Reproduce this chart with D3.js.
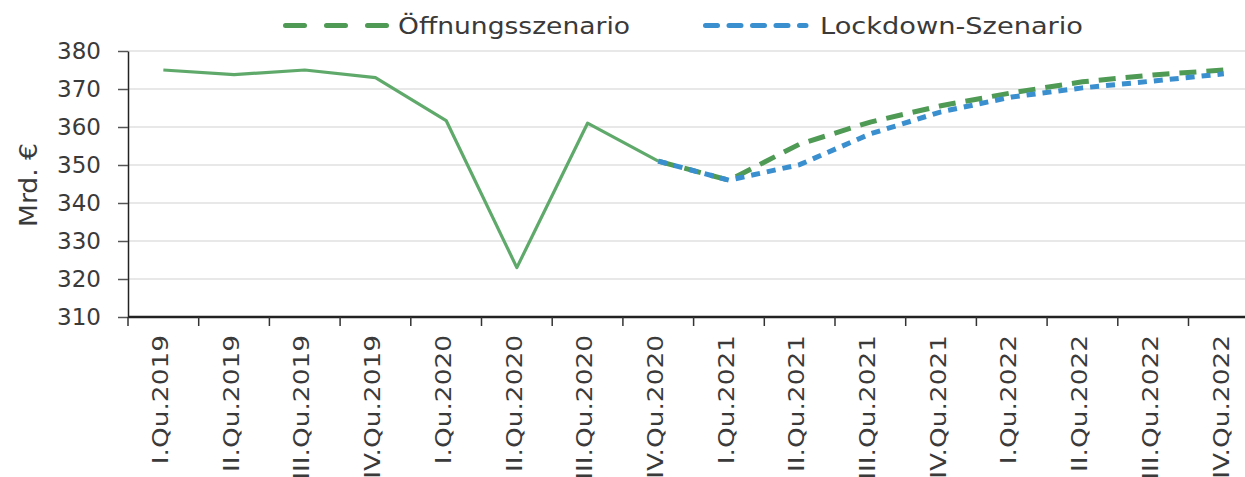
<!DOCTYPE html>
<html>
<head>
<meta charset="utf-8">
<script src="https://cdn.jsdelivr.net/npm/d3@7"></script>
<style>
  body { margin: 0; background: #fff; font-family: "DejaVu Sans", sans-serif; }
</style>
</head>
<body>
<script>
// quarters on the x axis
var quarters = ["I.Qu.2019", "II.Qu.2019", "III.Qu.2019", "IV.Qu.2019",
                "I.Qu.2020", "II.Qu.2020", "III.Qu.2020", "IV.Qu.2020",
                "I.Qu.2021", "II.Qu.2021", "III.Qu.2021", "IV.Qu.2021",
                "I.Qu.2022", "II.Qu.2022", "III.Qu.2022", "IV.Qu.2022"];

// actual values (Mrd. €), I.Qu.2019 - IV.Qu.2020
var actual = [375, 373.8, 375, 373, 361.7, 323, 361, 351];

// scenarios, IV.Qu.2020 - IV.Qu.2022
var scenarioStart = 7;
var oeffnung = [351, 346, 355.5, 361.3, 365.6, 369, 371.9, 373.7, 375];
var lockdown = [351, 346, 350.1, 358.2, 364, 367.9, 370.3, 372.1, 374];

var yTicks = [310, 320, 330, 340, 350, 360, 370, 380];

var width = 1245, height = 477;
var green = "#5fa96b", greenDash = "#4f9a54", blue = "#3a8fcf";
var textCol = "#3a3a3a";

var svg = d3.select("body").append("svg")
    .attr("width", width)
    .attr("height", height);

var left = 128, bw = 70.7;
var x = d3.scaleBand()
    .domain(quarters)
    .range([left, left + bw * quarters.length]);

var y = d3.scaleLinear()
    .domain([310, 380])
    .range([317, 51]);

var cx = function(q) { return x(q) + x.bandwidth() / 2; };

// gridlines
svg.append("g")
  .selectAll("line")
  .data(yTicks.slice(1))
  .enter().append("line")
    .attr("x1", left).attr("x2", width)
    .attr("y1", function(d) { return y(d); })
    .attr("y2", function(d) { return y(d); })
    .attr("stroke", "#e8e8e8")
    .attr("stroke-width", 2);

// y axis
var yAxis = svg.append("g")
    .attr("transform", "translate(" + left + ",0)")
    .call(d3.axisLeft(y).tickValues(yTicks).tickSize(10).tickPadding(17).tickSizeOuter(0));
yAxis.select(".domain").attr("stroke", "#222").attr("stroke-width", 1.5);
yAxis.selectAll(".tick line").attr("stroke", "#555").attr("stroke-width", 1.5);
yAxis.selectAll(".tick text")
    .attr("font-family", "DejaVu Sans")
    .attr("font-size", 23)
    .attr("fill", textCol);

svg.append("text")
    .attr("transform", "translate(37,185) rotate(-90)")
    .attr("text-anchor", "middle")
    .attr("font-size", 25)
    .attr("fill", textCol)
    .attr("textLength", 84)
    .attr("lengthAdjust", "spacingAndGlyphs")
    .text("Mrd. €");

// x axis (labels run off the bottom edge as in the source)
var xAxis = svg.append("g")
    .attr("transform", "translate(0," + y(310) + ")")
    .call(d3.axisBottom(x).tickSize(9).tickSizeOuter(0).tickPadding(0));
xAxis.select(".domain").attr("stroke", "#222").attr("stroke-width", 2.5)
    .attr("d", "M" + left + ",0H" + width);
xAxis.selectAll(".tick line")
    .attr("x1", -bw / 2).attr("x2", -bw / 2)
    .attr("stroke", "#333").attr("stroke-width", 1.5);
xAxis.selectAll(".tick text")
    .attr("font-family", "DejaVu Sans")
    .attr("font-size", 22)
    .attr("fill", textCol)
    .attr("text-anchor", "end")
    .attr("transform", "rotate(-90) scale(1.2,1)")
    .attr("x", -15)
    .attr("y", -3)
    .attr("dy", "0.35em");

var line = d3.line()
    .x(function(d) { return cx(d.q); })
    .y(function(d) { return y(d.v); });

var toPts = function(vals, start) {
  return vals.map(function(v, i) { return { q: quarters[start + i], v: v }; });
};

svg.append("path")
    .datum(toPts(actual, 0))
    .attr("d", line)
    .attr("fill", "none")
    .attr("stroke", green)
    .attr("stroke-width", 3.2)
    .attr("stroke-linejoin", "round");

svg.append("path")
    .datum(toPts(oeffnung, scenarioStart))
    .attr("d", line)
    .attr("fill", "none")
    .attr("stroke", greenDash)
    .attr("stroke-width", 5)
    .attr("stroke-dasharray", "17,10");

svg.append("path")
    .datum(toPts(lockdown, scenarioStart))
    .attr("d", line)
    .attr("fill", "none")
    .attr("stroke", blue)
    .attr("stroke-width", 5)
    .attr("stroke-dasharray", "9,7");

// legend
var legend = svg.append("g");
legend.append("line")
    .attr("x1", 285.5).attr("x2", 388).attr("y1", 25.5).attr("y2", 25.5)
    .attr("stroke", greenDash).attr("stroke-width", 5)
    .attr("stroke-linecap", "round")
    .attr("stroke-dasharray", "19,22");
legend.append("text")
    .attr("x", 398).attr("y", 34)
    .attr("font-size", 23).attr("fill", textCol)
    .attr("textLength", 232).attr("lengthAdjust", "spacingAndGlyphs")
    .text("Öffnungsszenario");
legend.append("line")
    .attr("x1", 705.5).attr("x2", 806).attr("y1", 25.5).attr("y2", 25.5)
    .attr("stroke", blue).attr("stroke-width", 5)
    .attr("stroke-linecap", "round")
    .attr("stroke-dasharray", "12,11.5");
legend.append("text")
    .attr("x", 820).attr("y", 34)
    .attr("font-size", 23).attr("fill", textCol)
    .attr("textLength", 263).attr("lengthAdjust", "spacingAndGlyphs")
    .text("Lockdown-Szenario");
</script>
</body>
</html>
